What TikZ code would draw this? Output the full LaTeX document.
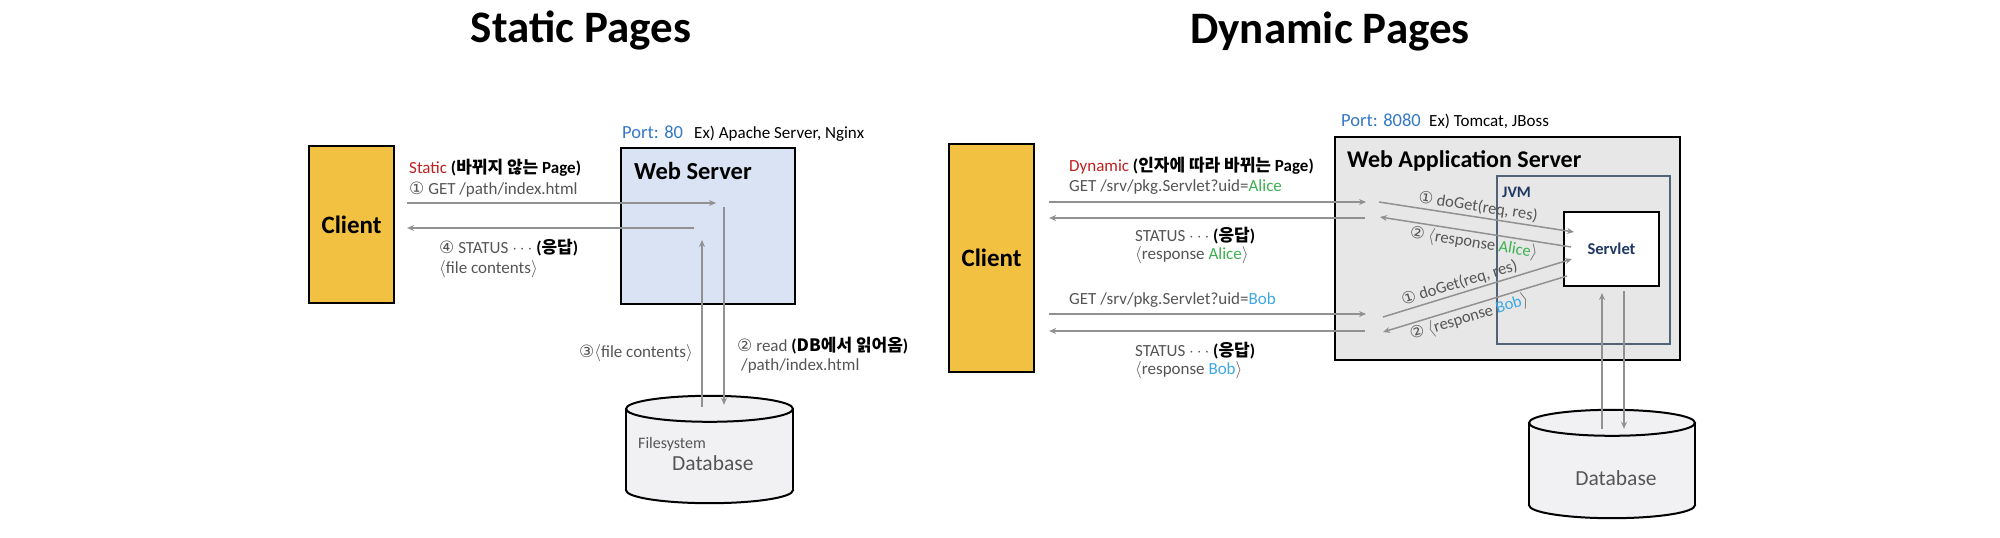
\documentclass[tikz,border=0pt]{standalone}
\usepackage{fontspec}
\setmainfont{Carlito}
\newfontfamily\kr{Noto Sans CJK KR}
\newfontfamily\sym{DejaVu Sans}
\usetikzlibrary{shapes.geometric, arrows.meta, positioning, calc}

\definecolor{clientgold}{RGB}{242,193,66}
\definecolor{wsblue}{RGB}{218,227,243}
\definecolor{wasgray}{RGB}{231,231,231}
\definecolor{dbgray}{RGB}{241,241,244}
\definecolor{jvmslate}{RGB}{84,98,120}
\definecolor{navytext}{RGB}{32,56,100}
\definecolor{portblue}{RGB}{52,120,200}
\definecolor{pagered}{RGB}{192,32,32}
\definecolor{alicegreen}{RGB}{60,176,80}
\definecolor{bobblue}{RGB}{60,168,230}
\definecolor{arrowgray}{RGB}{145,145,145}
\definecolor{labelgray}{RGB}{85,85,85}

\tikzset{
    clientbox/.style={rectangle, draw=black, fill=clientgold, line width=2.2pt, minimum width=85pt, minimum height=#1, inner sep=0pt, font=\fontsize{25}{29}\selectfont\bfseries},
    serverbox/.style={rectangle, draw=black, fill=#1, line width=2.2pt, inner sep=0pt},
    dbbody/.style={rectangle, draw=none, inner sep=0pt, minimum width=#1},
    dbline/.style={draw=black, line width=2pt},
    reqarrow/.style={-{Stealth[length=7pt, width=6pt]}, draw=arrowgray, line width=1.5pt},
    titletext/.style={font=\fontsize{45}{50}\selectfont\bfseries, inner sep=0pt},
    boxtitle/.style={font=\fontsize{24.5}{28}\selectfont\bfseries, inner sep=0pt, anchor=base west},
    porttag/.style={font=\fontsize{18.5}{22}\selectfont, text=portblue, inner sep=0pt, anchor=base west},
    extag/.style={font=\fontsize{17}{20}\selectfont, inner sep=0pt, anchor=base west},
    msglabel/.style={font=\fontsize{17}{20}\selectfont, text=labelgray, inner sep=0pt, anchor=base west},
    calllabel/.style={font=\fontsize{16.5}{19}\selectfont, text=labelgray, inner sep=2pt}
}

% drum outline around a dbbody node: name, x radius, y radius
\newcommand{\drawdrum}[3]{%
    \fill[dbgray] (#1.north west) rectangle (#1.south east);
    \draw[dbline, fill=dbgray] (#1.south) ellipse (#2 and #3);
    \fill[dbgray] (#1.north west) rectangle (#1.south east);
    \draw[dbline] (#1.north west) -- (#1.south west) (#1.north east) -- (#1.south east);
    \draw[dbline, fill=dbgray] (#1.north) ellipse (#2 and #3);
}
\newcommand{\cnum}[1]{{\sym #1}}

\begin{document}
\begin{tikzpicture}[x=1pt, y=-1pt]
\useasboundingbox[fill=white] (0,0) rectangle (2000,538);

\node[titletext, anchor=base] (stitle) at (581,42) {Static Pages};
\node[titletext, anchor=base] (dtitle) at (1330,43) {Dynamic Pages};

% static side
\node[clientbox=157pt] (sclient) at (351.5,224.5) {Client};
\node[serverbox=wsblue, minimum width=174pt, minimum height=156pt] (websrv) at (708,226) {};
\node[boxtitle] (wstitle) at (634,179) {Web Server};
\node[porttag] (sport) at (622,138) {Port: 80};
\node[extag] (sex) at (694,138) {Ex) Apache Server, Nginx};
\node[dbbody=167pt, minimum height=81pt] (sdb) at (709.5,449.5) {};
\drawdrum{sdb}{83.5pt}{13pt}
\node[msglabel, font=\fontsize{16}{19}\selectfont] (sfs) at (638,448) {Filesystem};
\node[msglabel, font=\fontsize{21.5}{24}\selectfont] (sdbname) at (672,470) {Database};

\node[msglabel] (sreqtag) at (409,173) {\textcolor{pagered}{Static} \textcolor{black}{\bfseries({\kr 바뀌지 않는} Page)}};
\node[msglabel] (sreqline) at (409,194) {\cnum{①} GET /path/index.html};
\node[msglabel] (sresline) at (439,253) {\cnum{④} STATUS $\cdots$ \textcolor{black}{\bfseries({\kr 응답})}};
\node[msglabel] (sresbody) at (439,273) {$\langle$file contents$\rangle$};
\node[msglabel, anchor=base east] (sfileret) at (693,357) {\cnum{③}$\langle$file contents$\rangle$};
\node[msglabel] (sreadtag) at (737,351) {\cnum{②} read \textcolor{black}{\bfseries({\kr DB에서 읽어옴})}};
\node[msglabel] (sreadpath) at (741,370) {/path/index.html};

\coordinate (sin) at (716,203);
\coordinate (sout) at (694,228);
\coordinate (sread) at (724,207);
\coordinate (sfile) at (702,240);
\draw[reqarrow] ([xshift=12pt]sclient.east |- sin) -- (sin);
\draw[reqarrow] (sout) -- ([xshift=12pt]sclient.east |- sout);
\draw[reqarrow] (sread) -- ($(sread |- sdb.north)+(0,-4)$);
\draw[reqarrow] ($(sfile |- sdb.north)+(0,-2)$) -- (sfile);

% dynamic side
\node[clientbox=228pt] (dclient) at (991.5,258) {Client};
\node[serverbox=wasgray, minimum width=345pt, minimum height=223pt] (was) at (1507.5,248.5) {};
\node[boxtitle, font=\fontsize{24}{28}\selectfont\bfseries] (wastitle) at (1347,167) {Web Application Server};
\node[porttag] (dport) at (1341,126) {Port: 8080};
\node[extag] (dex) at (1429,126) {Ex) Tomcat, JBoss};
\node[rectangle, draw=jvmslate, line width=1.5pt, minimum width=173pt, minimum height=168pt] (jvm) at (1583.5,260) {};
\node[boxtitle, font=\fontsize{16}{19}\selectfont\bfseries, text=navytext] (jvmtag) at (1502,197) {JVM};
\node[serverbox=white, line width=2pt, minimum width=95pt, minimum height=74pt, font=\fontsize{16.5}{19}\selectfont\bfseries, text=navytext] (servlet) at (1611.5,249) {Servlet};
\node[dbbody=166pt, minimum height=82pt] (ddb) at (1612,464) {};
\drawdrum{ddb}{83pt}{13pt}
\node[msglabel, anchor=base, font=\fontsize{21.5}{24}\selectfont] (ddbname) at (1616,485) {Database};

\node[msglabel] (dreqtag) at (1069,171) {\textcolor{pagered}{Dynamic} \textcolor{black}{\bfseries({\kr 인자에 따라 바뀌는} Page)}};
\node[msglabel] (dreqa) at (1069,191) {GET /srv/pkg.Servlet?uid=\textcolor{alicegreen}{Alice}};
\node[msglabel] (dresa) at (1135,241) {STATUS $\cdots$ \textcolor{black}{\bfseries({\kr 응답})}};
\node[msglabel] (dbodya) at (1135,259) {$\langle$response \textcolor{alicegreen}{Alice}$\rangle$};
\node[msglabel] (dreqb) at (1069,304) {GET /srv/pkg.Servlet?uid=\textcolor{bobblue}{Bob}};
\node[msglabel] (dresb) at (1135,356) {STATUS $\cdots$ \textcolor{black}{\bfseries({\kr 응답})}};
\node[msglabel] (dbodyb) at (1135,374) {$\langle$response \textcolor{bobblue}{Bob}$\rangle$};

\coordinate (dina) at (1366,202);
\coordinate (douta) at (1365,218);
\coordinate (dinb) at (1366,314);
\coordinate (doutb) at (1365,331);
\draw[reqarrow] ([xshift=14pt]dclient.east |- dina) -- (dina);
\draw[reqarrow] (douta) -- ([xshift=14pt]dclient.east |- douta);
\draw[reqarrow] ([xshift=14pt]dclient.east |- dinb) -- (dinb);
\draw[reqarrow] (doutb) -- ([xshift=14pt]dclient.east |- doutb);

\coordinate (calla) at (1379,202);
\coordinate (backa) at (1380,217);
\coordinate (callb) at (1383,317);
\coordinate (backb) at (1383,332);
\draw[reqarrow] (calla) -- node[calllabel, sloped, above] (callatag) {\cnum{①} doGet(req, res)} ($(servlet.west)+(11,-17)$);
\draw[reqarrow] ($(servlet.west)+(8,-2)$) -- node[calllabel, sloped, below] (backatag) {\cnum{②} $\langle$response \textcolor{alicegreen}{Alice}$\rangle$} (backa);
\draw[reqarrow] (callb) -- node[calllabel, sloped, above, pos=0.42] (callbtag) {\cnum{①} doGet(req, res)} ($(servlet.west)+(9,10)$);
\draw[reqarrow] ($(servlet.west)+(4,27)$) -- node[calllabel, sloped, below, pos=0.55] (backbtag) {\cnum{②} $\langle$response \textcolor{bobblue}{Bob}$\rangle$} (backb);

\draw[reqarrow] ($(servlet.south |- ddb.north)+(-9.5,6)$) -- ($(servlet.south)+(-9.5,6)$);
\draw[reqarrow] ($(servlet.south)+(12.5,4)$) -- ($(servlet.south |- ddb.north)+(12.5,6)$);

\end{tikzpicture}
\end{document}
